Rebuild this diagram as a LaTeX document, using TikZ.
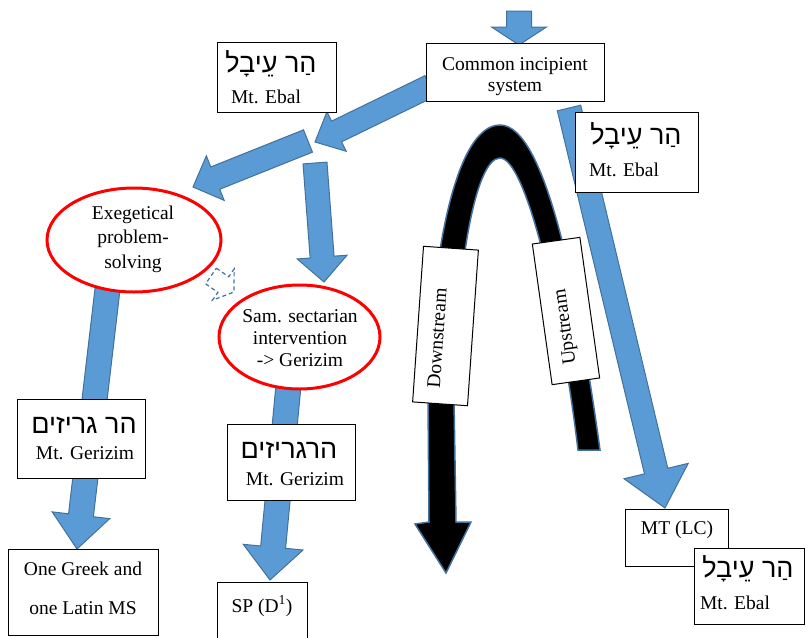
\documentclass[tikz,border=0pt]{standalone}
\usepackage{fontspec}
\setmainfont{Liberation Serif}
\newfontfamily\hebfont[Script=Hebrew]{Liberation Sans}
\TeXXeTstate=1
\usetikzlibrary{calc,shapes.geometric}
\definecolor{bfill}{HTML}{5B9BD5}
\definecolor{bline}{HTML}{41719C}
\definecolor{redl}{HTML}{FF0000}
\newcommand\rmsz{\rmfamily\fontsize{19.5}{24}\selectfont}
\newcommand\hbsz{\hebfont\fontsize{27}{30}\selectfont}
\tikzset{
  bx/.style={draw=black, line width=1.1pt, fill=white, inner sep=0pt, anchor=north west},
  tx/.style={inner sep=0pt, font=\rmsz},
  hb/.style={inner sep=0pt, font=\hbsz},
  barrowst/.style={fill=bfill, draw=bline, line width=1pt, line join=miter},
  ell/.style={ellipse, draw=redl, line width=3pt, fill=white, inner sep=0pt},
  rbox/.style={draw=black, line width=1pt, fill=white, inner sep=0pt},
}
% [style]{tail}{tip}{shaft half width}{head half width}{head length}
\newcommand\blockarr[6][]{%
  \coordinate (tmph) at ($(#3)!#6!(#2)$);
  \path[barrowst,#1] ($(#2)!#4!90:(#3)$) -- ($(tmph)!#4!90:(#3)$) -- ($(tmph)!#5!90:(#3)$) -- (#3)
    -- ($(tmph)!#5!-90:(#3)$) -- ($(tmph)!#4!-90:(#3)$) -- ($(#2)!#4!-90:(#3)$) -- cycle;}
\begin{document}
\begin{tikzpicture}[x=1pt,y=-1pt]
\useasboundingbox (0,0) rectangle (808,637);
\clip (0,0) rectangle (808,637);

% blue block arrows
\coordinate (t0) at (519,11);  \coordinate (p0) at (519,45);
\coordinate (t1) at (430,86);  \coordinate (p1) at (315,142);
\coordinate (t2) at (308,141); \coordinate (p2) at (193,187);
\coordinate (t3) at (315,163); \coordinate (p3) at (324,282);
\coordinate (t4) at (108,285); \coordinate (p4) at (77,549);
\coordinate (t5) at (289,380); \coordinate (p5) at (270,580);
\coordinate (t6) at (569,108); \coordinate (p6) at (665,508);
\coordinate (t7) at (211,276); \coordinate (p7) at (234,292);
\blockarr{t0}{p0}{12.5pt}{27.5pt}{18pt}
\blockarr{t1}{p1}{11.5pt}{22pt}{24pt}
\blockarr{t2}{p2}{12pt}{24pt}{24pt}
\blockarr{t3}{p3}{12pt}{25pt}{25pt}
\blockarr{t4}{p4}{12.5pt}{29pt}{34pt}
\blockarr{t5}{p5}{12.5pt}{30pt}{33pt}
\blockarr{t6}{p6}{12pt}{33pt}{38pt}
\blockarr[fill=none, dash pattern=on 4pt off 3pt, line width=1.2pt]{t7}{p7}{9.5pt}{19pt}{13pt}

% black arch
\path[fill=black, draw=bline, line width=1.5pt, line join=miter]
  (600,450) .. controls (578,290) and (545,125) .. (500,125)
  .. controls (455,125) and (430,260) .. (428,400)
  -- (429,522) -- (415,524) -- (446,573) -- (471,522) -- (456,522) -- (454,400)
  .. controls (456,270) and (475,158) .. (500,158)
  .. controls (525,158) and (560,300) .. (578,450) -- cycle;

% ellipses
\node[ell, minimum width=174pt, minimum height=104pt] (e1) at (134,240) {};
\node[tx, align=center, font=\rmfamily\fontsize{19.5}{24.5}\selectfont] (e1t) at (133,239) {Exegetical\\problem-\\solving};
\node[ell, minimum width=161pt, minimum height=104pt] (e2) at (299.5,337) {};
\node[tx, align=center, font=\rmfamily\fontsize{19.5}{22}\selectfont] (e2t) at (300,338) {Sam. sectarian\\intervention\\-> Gerizim};

% stream labels
\node[rbox, rotate=86, minimum width=156pt, minimum height=55pt] (dsb) at (445.5,326) {};
\node[tx, rotate=86] (dst) at (437,338) {Downstream};
\node[rbox, rotate=98, minimum width=142pt, minimum height=48pt] (usb) at (566,311) {};
\node[tx, rotate=98] (ust) at (566,327) {Upstream};

% boxes
\node[bx, minimum width=178pt, minimum height=58pt] (cis) at (426,43) {};
\node[tx, align=center, font=\rmfamily\fontsize{19.5}{21}\selectfont] (cist) at (515,77) {Common incipient\\system};

\node[bx, minimum width=119pt, minimum height=70pt] (eb1) at (217,42) {};
\node[hb] (eb1h) at (271,63.5) {\beginR הַר עֵיבָל\endR};
\node[tx] (eb1t) at (266,96.5) {Mt. Ebal};

\node[bx, minimum width=123pt, minimum height=80pt] (eb2) at (575,112) {};
\node[hb] (eb2h) at (636,135.5) {\beginR הַר עֵיבָל\endR};
\node[tx] (eb2t) at (624,170) {Mt. Ebal};

\node[bx, minimum width=128pt, minimum height=79pt] (gz1) at (17,399) {};
\node[hb] (gz1h) at (84,425) {\beginR הר גריזים\endR};
\node[tx] (gz1t) at (85,453.5) {Mt. Gerizim};

\node[bx, minimum width=128pt, minimum height=76pt] (gz2) at (227,424) {};
\node[hb] (gz2h) at (289,450) {\beginR הרגריזים\endR};
\node[tx] (gz2t) at (295,479) {Mt. Gerizim};

\node[bx, minimum width=150pt, minimum height=86pt] (gk) at (8,549) {};
\node[tx, align=center, font=\rmfamily\fontsize{19.5}{39}\selectfont] (gkt) at (83,588.5) {One Greek and\\one Latin MS};

\node[bx, minimum width=90pt, minimum height=80pt] (sp) at (217,582) {};
\node[tx] (spt) at (262,606) {SP (D\textsuperscript{1})};

\node[bx, minimum width=103pt, minimum height=57pt] (mt) at (625,509) {};
\node[tx] (mtt) at (677,530) {MT (LC)};

\node[bx, minimum width=110pt, minimum height=76pt] (eb3) at (694,548) {};
\node[hb] (eb3h) at (748,569) {\beginR הַר עֵיבָל\endR};
\node[tx] (eb3t) at (735,603) {Mt. Ebal};
\end{tikzpicture}
\end{document}
